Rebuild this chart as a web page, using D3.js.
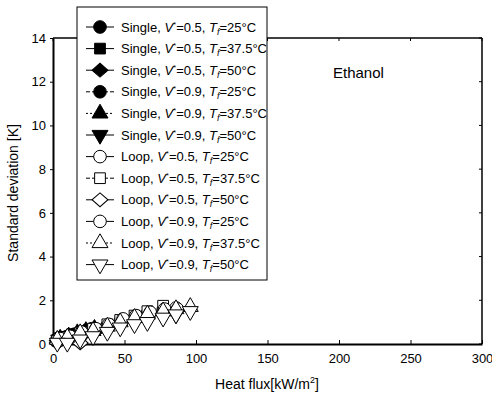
<!DOCTYPE html>
<html>
<head>
<meta charset="utf-8">
<script src="https://cdn.jsdelivr.net/npm/d3@7"></script>
<style>
  body { margin: 0; background: #fff; }
  svg { display: block; font-family: Arial, 'Liberation Sans', sans-serif; }
</style>
</head>
<body>
<script>
// tick labels
var xTicks = [0, 50, 100, 150, 200, 250, 300]
var yTicks = [0, 2, 4, 6, 8, 10, 12, 14]

// legend entries: [loop type, V*, Tf]
var kinds = ['Single', 'Single', 'Single', 'Single', 'Single', 'Single', 'Loop', 'Loop', 'Loop', 'Loop', 'Loop', 'Loop']
var vStar = ['0.5', '0.5', '0.5', '0.9', '0.9', '0.9', '0.5', '0.5', '0.5', '0.9', '0.9', '0.9']
var tFill = ['25', '37.5', '50', '25', '37.5', '50', '25', '37.5', '50', '25', '37.5', '50']
var shapes = ['circle', 'square', 'diamond', 'circle', 'up', 'down', 'circle', 'square', 'diamond', 'circle', 'up', 'down']

// heat flux [kW/m2] and standard deviation [K] per series
var qS1 = [3, 8, 14, 19, 24]
var sS1 = [0.25, 0.3, 0.4, 0.5, 0.6]
var qS2 = [4, 9, 14, 20, 25]
var sS2 = [0.2, 0.3, 0.45, 0.55, 0.65]
var qS3 = [3, 8, 13, 18, 23]
var sS3 = [0.15, 0.25, 0.35, 0.5, 0.55]
var qS4 = [5, 10, 15, 21, 27]
var sS4 = [0.3, 0.35, 0.45, 0.55, 0.7]
var qS5 = [5, 11, 17, 23, 29]
var sS5 = [0.25, 0.35, 0.5, 0.6, 0.7]
var qS6 = [4, 10, 16, 22, 28, 38, 47, 57, 66, 77, 86]
var sS6 = [0.2, 0.3, 0.4, 0.5, 0.55, 0.7, 0.85, 1.0, 1.1, 1.25, 1.35]
var qL1 = [3, 10, 19, 28, 38, 47, 57, 66, 77, 86]
var sL1 = [0.2, 0.3, 0.45, 0.65, 0.85, 1.05, 1.2, 1.4, 1.55, 1.65]
var qL2 = [3, 10, 19, 28, 38, 47, 57, 66, 77]
var sL2 = [0.15, 0.3, 0.5, 0.7, 0.9, 1.1, 1.3, 1.5, 1.75]
var qL3 = [3, 10, 19, 28, 38, 47, 57, 66]
var sL3 = [0.05, 0.15, 0.05, 0.5, 0.75, 0.95, 1.1, 1.3]
var qL4 = [5, 12, 20, 30, 39, 49, 58, 68, 78, 87]
var sL4 = [0.25, 0.35, 0.55, 0.7, 0.9, 1.15, 1.3, 1.45, 1.6, 1.6]
var qL5 = [3, 10, 19, 28, 38, 47, 57, 66, 77, 86, 96]
var sL5 = [0.2, 0.3, 0.5, 0.6, 0.8, 1.0, 1.2, 1.35, 1.5, 1.6, 1.7]
var qL6 = [3, 10, 19, 28, 38, 47, 57, 66, 77, 86, 96]
var sL6 = [0.05, 0.05, 0.2, 0.35, 0.55, 0.75, 0.9, 1.0, 1.2, 1.35, 1.5]

var heatFlux = [qS1, qS2, qS3, qS4, qS5, qS6, qL1, qL2, qL3, qL4, qL5, qL6]
var stdDev = [sS1, sS2, sS3, sS4, sS5, sS6, sL1, sL2, sL3, sL4, sL5, sL6]
var dashes = [null, null, null, '4,2', '2,2', null, null, '4,2', null, null, '2,2', null]

var width = 492
var height = 396
var margin = { left: 53, right: 10, top: 38, bottom: 52 }

var svg = d3.select('body').append('svg')
  .attr('width', width)
  .attr('height', height)

var x = d3.scaleLinear().domain([0, 300]).range([margin.left, width - margin.right])
var y = d3.scaleLinear().domain([0, 14]).range([height - margin.bottom, margin.top])

function symbolPath (shape) {
  var sym = d3.symbolCircle
  var size = 125
  if (shape === 'square') { sym = d3.symbolSquare; size = 115 }
  if (shape === 'diamond') { sym = d3.symbolSquare; size = 95 }
  if (shape === 'up' || shape === 'down') { sym = d3.symbolTriangle; size = 110 }
  return d3.symbol().type(sym).size(size)()
}

function drawMarker (g, shape, filled, cx, cy) {
  var rot = ''
  if (shape === 'down') rot = ' rotate(180)'
  if (shape === 'diamond') rot = ' scale(1.15,1) rotate(45)'
  g.append('path')
    .attr('d', symbolPath(shape))
    .attr('transform', 'translate(' + cx + ',' + cy + ')' + rot)
    .style('fill', filled ? '#000' : '#fff')
    .style('stroke', '#000')
    .style('stroke-width', 1)
}

// frame
var frame = svg.append('g')
frame.append('line').attr('x1', x(0)).attr('x2', x(300)).attr('y1', y(14)).attr('y2', y(14))
  .style('stroke', '#000').style('stroke-width', 1.5)
frame.append('line').attr('x1', x(300)).attr('x2', x(300)).attr('y1', y(0)).attr('y2', y(14))
  .style('stroke', '#000').style('stroke-width', 1.5)

// inner ticks on top and right
xTicks.forEach(function (t) {
  frame.append('line').attr('x1', x(t)).attr('x2', x(t)).attr('y1', y(14)).attr('y2', y(14) + 3)
    .style('stroke', '#000')
})
yTicks.forEach(function (t) {
  frame.append('line').attr('x1', x(300)).attr('x2', x(300) - 3).attr('y1', y(t)).attr('y2', y(t))
    .style('stroke', '#000')
})

// bottom axis with inward ticks
var xAxis = svg.append('g')
  .attr('transform', 'translate(0,' + y(0) + ')')
  .call(d3.axisBottom(x).tickValues(xTicks).tickSizeInner(-4).tickSizeOuter(0).tickPadding(10))
xAxis.select('.domain').style('stroke-width', 2)
xAxis.selectAll('text').style('font-size', '13px').style('fill', '#000')

// left axis with outward ticks
var yAxis = svg.append('g')
  .attr('transform', 'translate(' + x(0) + ',0)')
  .call(d3.axisLeft(y).tickValues(yTicks).tickSizeInner(3).tickSizeOuter(0).tickPadding(4))
yAxis.select('.domain').style('stroke-width', 2)
yAxis.selectAll('text').style('font-size', '13px').style('fill', '#000')

// data points
var pts = svg.append('g')
heatFlux.forEach(function (qs, i) {
  qs.forEach(function (q, j) {
    drawMarker(pts, shapes[i], kinds[i] === 'Single', x(q), y(stdDev[i][j]))
  })
})

// axis titles
svg.append('text')
  .attr('transform', 'translate(18,' + (y(7) + 2) + ') rotate(-90)')
  .attr('text-anchor', 'middle')
  .style('font-size', '14px')
  .text('Standard deviation [K]')

var xt = svg.append('text')
  .attr('x', 267)
  .attr('y', 389)
  .attr('text-anchor', 'middle')
  .style('font-size', '14px')
xt.append('tspan').text('Heat flux[kW/m')
xt.append('tspan').attr('dy', -6).style('font-size', '9px').text('2')
xt.append('tspan').attr('dy', 6).text(']')

svg.append('text')
  .attr('x', 333)
  .attr('y', 78)
  .style('font-size', '15px')
  .text('Ethanol')

// legend
var legend = svg.append('g')
legend.append('rect')
  .attr('x', 77).attr('y', 7).attr('width', 190).attr('height', 273)
  .style('fill', '#fff').style('stroke', '#000').style('stroke-width', 1)

kinds.forEach(function (k, i) {
  var ly = 27 + i * 21.6
  legend.append('line')
    .attr('x1', 86).attr('x2', 114).attr('y1', ly).attr('y2', ly)
    .style('stroke', '#000').style('stroke-width', 1)
    .style('stroke-dasharray', dashes[i])
  drawMarker(legend, shapes[i], k === 'Single', 100, ly)
  var t = legend.append('text')
    .attr('x', 121).attr('y', ly + 4.5)
    .style('font-size', '13px')
  t.append('tspan').text(k + ', ')
  t.append('tspan').style('font-style', 'italic').text('V')
  t.append('tspan').attr('dy', -5).style('font-size', '8px').text('*')
  t.append('tspan').attr('dy', 5).text('=' + vStar[i] + ', ')
  t.append('tspan').style('font-style', 'italic').text('T')
  t.append('tspan').attr('dy', 3).style('font-size', '9px').style('font-style', 'italic').text('f')
  t.append('tspan').attr('dy', -3).text('=' + tFill[i] + '°C')
})
</script>
</body>
</html>
